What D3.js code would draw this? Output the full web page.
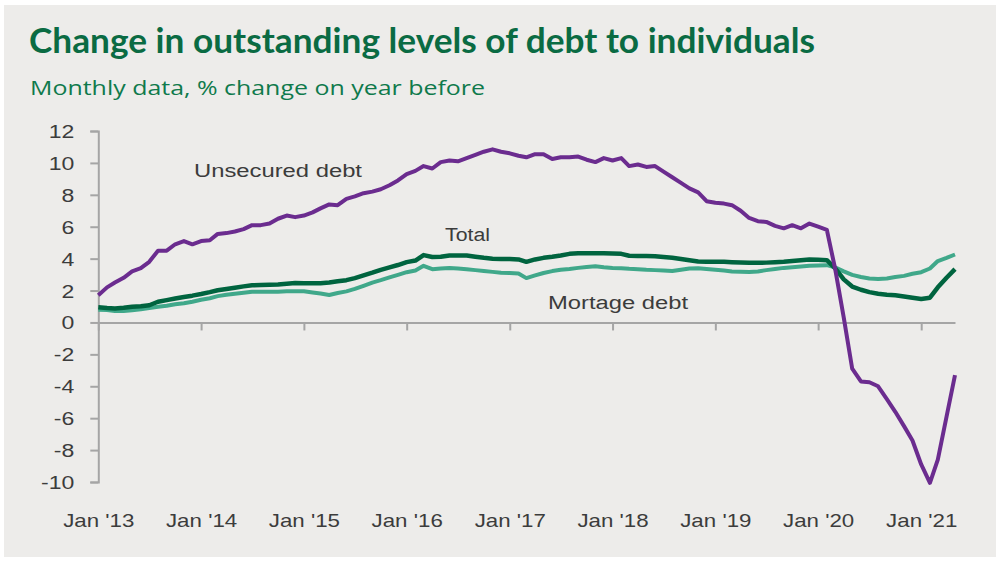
<!DOCTYPE html>
<html>
<head>
<meta charset="utf-8">
<script src="https://cdn.jsdelivr.net/npm/d3@7"></script>
<style>
  body { margin: 0; background: #fff; }
  svg { display: block; }
</style>
</head>
<body>
<svg class="chart" width="1000" height="562"></svg>
<script>
// monthly data, Jan 2013 .. May 2021 (% change on year before)
const startMonth = new Date(2013, 0, 1);

const unsecured = [
  1.7, 2.2, 2.5, 2.8, 3.2, 3.4, 3.8, 4.5, 4.5, 4.9, 5.1, 4.9,
  5.1, 5.15, 5.55, 5.6, 5.7, 5.85, 6.1, 6.1, 6.2, 6.5, 6.7, 6.6,
  6.7, 6.9, 7.15, 7.4, 7.35, 7.75, 7.9, 8.1, 8.2, 8.35, 8.6, 8.9,
  9.3, 9.5, 9.8, 9.65, 10.05, 10.15, 10.1, 10.3, 10.5, 10.7, 10.85, 10.7,
  10.6, 10.45, 10.35, 10.55, 10.55, 10.25, 10.35, 10.35, 10.4, 10.2, 10.05, 10.3,
  10.15, 10.3, 9.8, 9.9, 9.75, 9.8, 9.45, 9.1, 8.75, 8.4, 8.15, 7.6,
  7.5, 7.45, 7.35, 7.0, 6.55, 6.35, 6.3, 6.05, 5.9, 6.1, 5.9, 6.2,
  6.0, 5.8, 3.4, 0.3, -2.9, -3.7, -3.75, -4.0, -4.8, -5.6, -6.5, -7.4,
  -8.9, -10.05, -8.6, -5.9, -3.3
];

const total = [
  0.95, 0.9, 0.88, 0.92, 0.98, 1.02, 1.08, 1.3, 1.4, 1.5, 1.6, 1.68,
  1.78, 1.9, 2.02, 2.1, 2.18, 2.26, 2.33, 2.35, 2.36, 2.38, 2.42, 2.47,
  2.46, 2.45, 2.46, 2.5, 2.58, 2.65, 2.78, 2.95, 3.12, 3.3, 3.45, 3.6,
  3.78, 3.88, 4.22, 4.1, 4.12, 4.2, 4.2, 4.2, 4.12, 4.05, 4.0, 3.98,
  3.98, 3.95, 3.8, 3.95, 4.05, 4.12, 4.2, 4.3, 4.33, 4.33, 4.33, 4.33,
  4.32, 4.3, 4.18, 4.16, 4.16, 4.15, 4.1, 4.05, 3.98, 3.9, 3.82, 3.8,
  3.8, 3.8, 3.78, 3.76, 3.74, 3.74, 3.75, 3.78, 3.8, 3.85, 3.9, 3.95,
  3.93, 3.9, 3.4, 2.7, 2.25, 2.05, 1.9, 1.8, 1.74, 1.7, 1.63, 1.55,
  1.47, 1.55, 2.2, 2.8, 3.34
];

const mortgage = [
  0.8, 0.78, 0.72, 0.72, 0.76, 0.82, 0.9, 0.98, 1.05, 1.14, 1.2, 1.3,
  1.42, 1.52, 1.65, 1.73, 1.8, 1.86, 1.92, 1.92, 1.92, 1.93, 1.95, 1.96,
  1.95, 1.88, 1.82, 1.72, 1.85, 1.95, 2.1, 2.3, 2.5, 2.65, 2.82, 2.98,
  3.15, 3.26, 3.55, 3.34, 3.38, 3.42, 3.38, 3.34, 3.28, 3.22, 3.17, 3.12,
  3.1, 3.07, 2.78, 2.95, 3.1, 3.22, 3.3, 3.35, 3.42, 3.48, 3.52, 3.46,
  3.42, 3.4, 3.36, 3.34, 3.3, 3.28, 3.25, 3.22, 3.3, 3.38, 3.4, 3.35,
  3.3, 3.25, 3.2, 3.18, 3.17, 3.2, 3.28, 3.35, 3.42, 3.46, 3.5, 3.55,
  3.57, 3.59, 3.45, 3.2, 2.98, 2.85, 2.75, 2.72, 2.76, 2.85, 2.92, 3.05,
  3.15, 3.38, 3.85, 4.05, 4.26
];

const yTicks = [-10, -8, -6, -4, -2, 0, 2, 4, 6, 8, 10, 12];

const months = unsecured.map((_, i) => d3.timeMonth.offset(startMonth, i));

const svg = d3.select('.chart');

// panel background
svg.append('rect')
  .attr('x', 4).attr('y', 5)
  .attr('width', 992).attr('height', 552)
  .attr('fill', '#edecea');

svg.append('text')
  .attr('x', 29).attr('y', 53)
  .attr('fill', '#0a6b43')
  .attr('font-family', 'Lato, "Open Sans", sans-serif')
  .attr('font-weight', 'bold')
  .attr('font-size', 34)
  .attr('textLength', 786)
  .attr('lengthAdjust', 'spacingAndGlyphs')
  .text('Change in outstanding levels of debt to individuals');

svg.append('text')
  .attr('x', 30).attr('y', 95)
  .attr('fill', '#0f7a4c')
  .attr('font-family', '"Open Sans", Lato, sans-serif')
  .attr('font-size', 20)
  .attr('textLength', 455)
  .attr('lengthAdjust', 'spacingAndGlyphs')
  .text('Monthly  data, % change  on year  before');

const x = d3.scaleTime()
  .domain([startMonth, months[months.length - 1]])
  .range([98.3, 955]);

const y = d3.scaleLinear()
  .domain([-10, 12])
  .range([482, 131]);

const axisColor = '#a5a5a5';
const labelColor = '#3c3c3c';
const labelFont = '"Liberation Sans", Arial, sans-serif';

// y axis
const yAxis = svg.append('g')
  .attr('transform', `translate(${x.range()[0]},0)`)
  .call(d3.axisLeft(y).tickValues(yTicks).tickSize(8).tickPadding(16).tickFormat(d => String(d)));
yAxis.select('.domain').attr('stroke', axisColor).attr('stroke-width', 2);
yAxis.selectAll('.tick line').attr('stroke', axisColor).attr('stroke-width', 2);
yAxis.selectAll('.tick text')
  .attr('fill', labelColor)
  .attr('font-family', labelFont)
  .attr('font-size', 18)
  .attr('dy', '0.36em')
  .each(function() {
    const t = d3.select(this);
    const xx = +t.attr('x');
    t.attr('x', null).attr('transform', `translate(${xx},0) scale(1.28,1)`);
  });

// x axis at zero
const xAxis = svg.append('g')
  .attr('transform', `translate(0,${y(0)})`)
  .call(d3.axisBottom(x).ticks(d3.timeYear.every(1)).tickSize(8).tickSizeOuter(0)
    .tickFormat(d3.timeFormat("Jan '%y")));
xAxis.select('.domain').attr('stroke', axisColor).attr('stroke-width', 2);
xAxis.selectAll('.tick line').attr('stroke', axisColor).attr('stroke-width', 2);
xAxis.selectAll('.tick text')
  .attr('fill', labelColor)
  .attr('font-family', labelFont)
  .attr('font-size', 18)
  .attr('y', y(-10) - y(0) + 45)
  .attr('dy', 0)
  .attr('x', 0)
  .attr('transform', 'scale(1.24,1)')
  .attr('text-anchor', 'middle');

const line = d3.line()
  .x((d, i) => x(months[i]))
  .y(d => y(d));

svg.append('path')
  .datum(mortgage)
  .attr('fill', 'none')
  .attr('stroke', '#40a88a')
  .attr('stroke-width', 4)
  .attr('stroke-linejoin', 'round')
  .attr('d', line);

svg.append('path')
  .datum(total)
  .attr('fill', 'none')
  .attr('stroke', '#00643f')
  .attr('stroke-width', 4.5)
  .attr('stroke-linejoin', 'round')
  .attr('d', line);

svg.append('path')
  .datum(unsecured)
  .attr('fill', 'none')
  .attr('stroke', '#6b2c8f')
  .attr('stroke-width', 4)
  .attr('stroke-linejoin', 'round')
  .attr('d', line);

// series labels
const seriesLabels = [
  { text: 'Unsecured  debt', x: 194, y: 177, w: 168 },
  { text: 'Total', x: 445, y: 241, w: 45 },
  { text: 'Mortage  debt', x: 548, y: 309, w: 140 }
];
svg.selectAll('.series-label')
  .data(seriesLabels)
  .enter().append('text')
  .attr('class', 'series-label')
  .attr('x', d => d.x).attr('y', d => d.y)
  .attr('fill', labelColor)
  .attr('font-family', labelFont)
  .attr('font-size', 18)
  .attr('textLength', d => d.w)
  .attr('lengthAdjust', 'spacingAndGlyphs')
  .text(d => d.text);
</script>
</body>
</html>
